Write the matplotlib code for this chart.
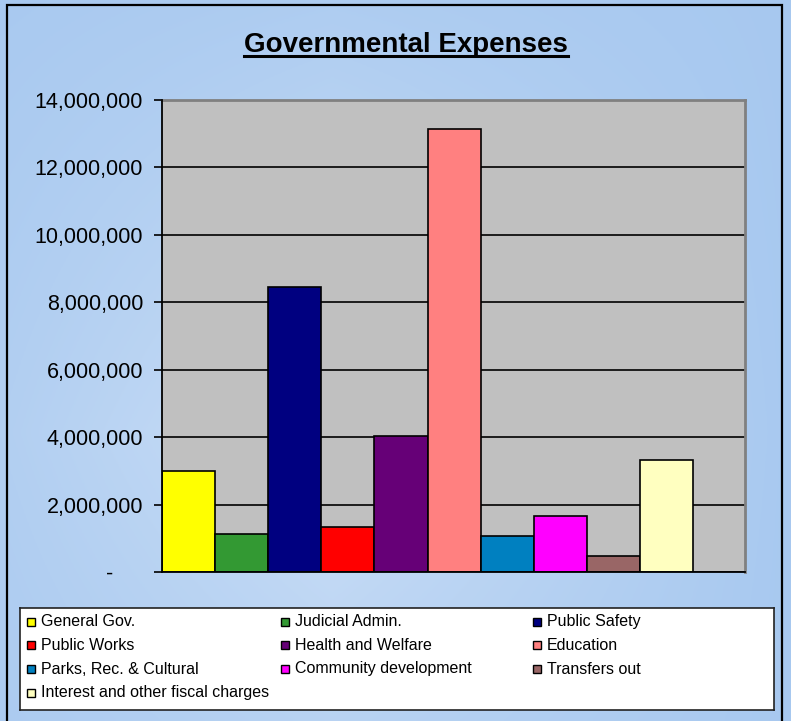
import numpy as np
import matplotlib.pyplot as plt
from matplotlib.patches import Rectangle
from matplotlib.lines import Line2D
from matplotlib.ticker import FuncFormatter

plt.rcParams['font.family'] = ['Liberation Sans', 'DejaVu Sans']

# data
categories = ["General Gov.", "Judicial Admin.", "Public Safety", "Public Works",
              "Health and Welfare", "Education", "Parks, Rec. & Cultural",
              "Community development", "Transfers out",
              "Interest and other fiscal charges"]
expenses = [3000000, 1130000, 8460000, 1340000, 4040000,
            13130000, 1080000, 1660000, 470000, 3320000]
colors = ["#ffff00", "#339933", "#000080", "#ff0000", "#660077",
          "#ff8080", "#0080c0", "#ff00ff", "#996666", "#ffffc0"]
y_ticks = np.arange(0, 14000001, 2000000)

W, H = 791, 721
fig = plt.figure(figsize=(W / 100, H / 100), dpi=100)

# background gradient + frame
bg = fig.add_axes([0, 0, 1, 1], zorder=-10)
xx, yy = np.meshgrid(np.linspace(0, 1, 300), np.linspace(0, 1, 300))
f = np.clip(1 - np.abs(xx - 0.42) / 0.6, 0, 1) * np.clip(1 - np.abs(yy - 0.6) / 0.75, 0, 1)
edge = np.array([0.655, 0.785, 0.94])
center = np.array([0.80, 0.875, 0.965])
img = edge + (center - edge) * f[..., None]
bg.imshow(img, extent=[0, 1, 0, 1], aspect='auto', origin='upper')
bg.set_xlim(0, 1)
bg.set_ylim(0, 1)
bg.set_axis_off()
bg.add_patch(Rectangle((7 / W, -0.05), (782 - 7) / W, 1.05 - 5 / H,
                       fill=False, ec='black', lw=1.6))

# main plot
ax = fig.add_axes([162 / W, 1 - 572 / H, (745 - 162) / W, (572 - 100) / H])
ax.set_facecolor('#c0c0c0')
x = np.arange(len(expenses)) + 0.5
ax.bar(x, expenses, width=1.0, color=colors, edgecolor='black', linewidth=1.2, zorder=3)
ax.set_xlim(0, (745 - 162) / 53.1)
ax.set_ylim(0, 14000000)
ax.set_yticks(y_ticks)
ax.set_xticks([])
ax.yaxis.grid(True, color='black', linewidth=1.2)
ax.set_axisbelow(True)
ax.yaxis.set_major_formatter(FuncFormatter(lambda v, p: "-     " if v == 0 else f"{int(v):,}"))
ax.tick_params(axis='y', direction='out', length=6, width=1.2, pad=7.5, labelsize=15.5)
for s in ['top', 'right']:
    ax.spines[s].set_color('#808080')
    ax.spines[s].set_linewidth(2)
for s in ['left', 'bottom']:
    ax.spines[s].set_color('black')
    ax.spines[s].set_linewidth(1.3)
    ax.spines[s].set_zorder(4)

# title with underline
title = fig.text(406 / W, 1 - 52 / H, "Governmental Expenses", ha='center', va='baseline',
                 fontsize=20, fontweight='bold')
fig.canvas.draw()
bb = title.get_window_extent()
uy = (H - 56) / H
fig.add_artist(Line2D([bb.x0 / W, bb.x1 / W], [uy, uy], color='black', lw=2.2))

# legend box
lax = fig.add_axes([20 / W, 1 - 710 / H, 754 / W, 102 / H])
lax.set_xlim(20, 774)
lax.set_ylim(710, 608)
lax.set_facecolor('white')
lax.set_xticks([])
lax.set_yticks([])
for s in lax.spines.values():
    s.set_color('#222222')
    s.set_linewidth(1.2)
col_marker = [27, 281, 533]
col_text = [41, 295, 547]
rows = [621.5, 645, 669, 692.5]
for i, (name, c) in enumerate(zip(categories, colors)):
    r, k = divmod(i, 3)
    lax.add_patch(Rectangle((col_marker[k], rows[r] - 4), 8, 8, fc=c, ec='black', lw=1))
    lax.text(col_text[k], rows[r], name, va='center', ha='left', fontsize=11.5)

fig.savefig('out.png', dpi=100)
